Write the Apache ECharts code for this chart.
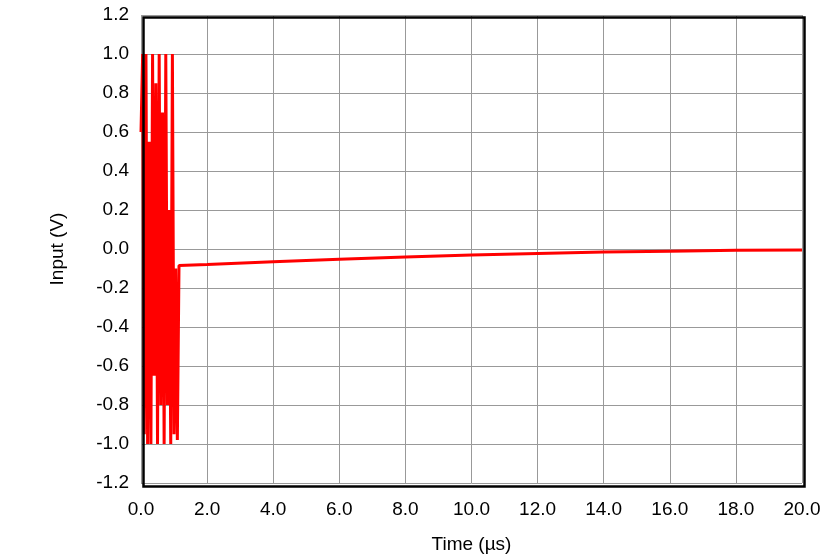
<!DOCTYPE html>
<html><head><meta charset="utf-8">
<script src="https://cdn.jsdelivr.net/npm/echarts@6/dist/echarts.min.js"></script>
<style>html,body{margin:0;padding:0;background:#fff}#c{width:839px;height:559px}</style>
</head><body><div id="c"></div>
<script>
// burst samples (time in µs, volts)
var burstTime = [0, 0.05, 0.1, 0.15, 0.2, 0.25, 0.3, 0.35, 0.4, 0.45, 0.5, 0.55, 0.6, 0.65, 0.7, 0.75, 0.8, 0.85, 0.9, 0.95, 1.0, 1.05, 1.1, 1.15];
var burstVolt = [0.6, 1.0, -0.95, 1.0, -1.0, 0.55, -1.0, 1.0, -0.65, 0.85, -1.0, 1.0, -0.8, 0.7, -1.0, 1.0, -0.8, 0.2, -1.0, 1.0, -0.95, -0.1, -0.98, -0.085];
// slow recovery tail
var tailTime = [2, 4, 6, 8, 10, 12, 14, 16, 18, 20];
var tailVolt = [-0.08, -0.066, -0.052, -0.041, -0.031, -0.023, -0.016, -0.011, -0.007, -0.005];

var pts = [];
for (var i = 0; i < burstTime.length; i++) pts.push([burstTime[i], burstVolt[i]]);
for (var j = 0; j < tailTime.length; j++) pts.push([tailTime[j], tailVolt[j]]);

var font = 'Liberation Sans, Arial, sans-serif';
var chart = echarts.init(document.getElementById('c'), null, {renderer: 'canvas'});
chart.setOption({
    animation: false,
    grid: { left: 141, right: 37, top: 15, bottom: 75 },
    xAxis: {
        type: 'value', min: 0, max: 20, interval: 2,
        name: 'Time (µs)', nameLocation: 'middle', nameGap: 52,
        nameTextStyle: { color: '#000', fontSize: 19, fontFamily: font },
        axisLabel: { color: '#000', fontSize: 19, fontFamily: font, margin: 17, formatter: function (v) { return v.toFixed(1); } },
        axisLine: { show: false }, axisTick: { show: false },
        splitLine: { lineStyle: { color: '#999', width: 1 } }
    },
    yAxis: {
        type: 'value', min: -1.2, max: 1.2, interval: 0.2,
        name: 'Input (V)', nameLocation: 'middle', nameGap: 74,
        nameTextStyle: { color: '#000', fontSize: 19, fontFamily: font },
        axisLabel: { color: '#000', fontSize: 19, fontFamily: font, margin: 12, formatter: function (v) { return v.toFixed(1); } },
        axisLine: { show: false }, axisTick: { show: false },
        splitLine: { lineStyle: { color: '#999', width: 1 } }
    },
    series: [{
        type: 'line', data: pts, showSymbol: false,
        lineStyle: { color: '#ff0000', width: 3 }
    }],
    graphic: [{
        type: 'rect', left: 141, top: 15,
        shape: { width: 661, height: 469 },
        style: { fill: 'none', stroke: '#000', lineWidth: 2.5 }, z: 100
    }]
});
</script></body></html>
